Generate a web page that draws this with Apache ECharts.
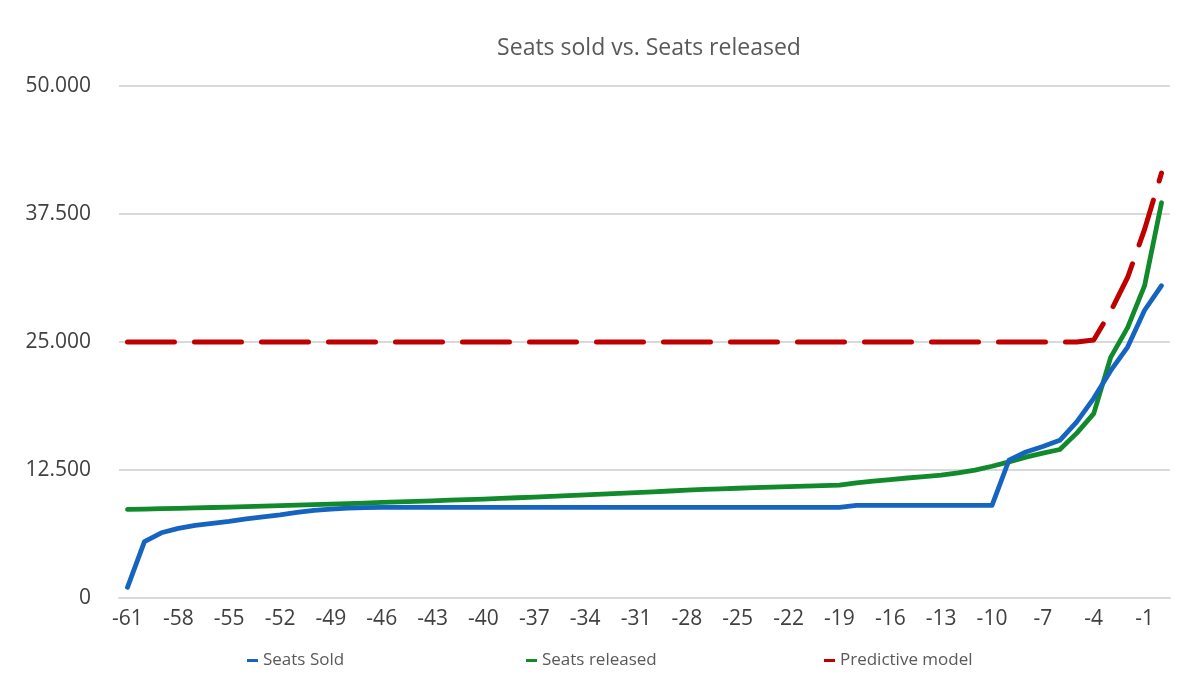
<!DOCTYPE html>
<html>
<head>
<meta charset="utf-8">
<title>Seats sold vs. Seats released</title>
<script src="https://cdn.jsdelivr.net/npm/echarts@6/dist/echarts.min.js"></script>
<style>
  html, body { margin: 0; padding: 0; background: #fff; }
  #chart { width: 1200px; height: 699px; }
</style>
</head>
<body>
<div id="chart"></div>
<script>
// days before departure, -61 .. 0
const days = [];
for (let d = -61; d <= 0; d++) days.push(String(d));

const seatsSold = [
  1040, 5500, 6370, 6800, 7090, 7280, 7480, 7730, 7930, 8120,
  8350, 8550, 8680, 8770, 8830, 8850, 8850, 8850, 8850, 8850,
  8850, 8850, 8850, 8850, 8850, 8850, 8850, 8850, 8850, 8850,
  8850, 8850, 8850, 8850, 8850, 8850, 8850, 8850, 8850, 8850,
  8850, 8850, 8850, 9050, 9050, 9050, 9050, 9050, 9050, 9050,
  9050, 9050, 13450, 14260, 14800, 15400, 17200, 19500, 22200, 24500,
  28100, 30500
];

const seatsReleased = [
  8650, 8680, 8720, 8760, 8800, 8840, 8880, 8930, 8970, 9020,
  9060, 9110, 9160, 9210, 9270, 9330, 9380, 9440, 9490, 9550,
  9610, 9660, 9720, 9790, 9860, 9930, 10000, 10070, 10150, 10220,
  10300, 10370, 10450, 10530, 10600, 10660, 10720, 10770, 10820, 10870,
  10920, 10970, 11020, 11250, 11420, 11570, 11720, 11860, 12000, 12220,
  12480, 12870, 13300, 13750, 14150, 14500, 16100, 18000, 23500, 26400,
  30500, 38600
];

const predictive = [
  25000, 25000, 25000, 25000, 25000, 25000, 25000, 25000, 25000, 25000,
  25000, 25000, 25000, 25000, 25000, 25000, 25000, 25000, 25000, 25000,
  25000, 25000, 25000, 25000, 25000, 25000, 25000, 25000, 25000, 25000,
  25000, 25000, 25000, 25000, 25000, 25000, 25000, 25000, 25000, 25000,
  25000, 25000, 25000, 25000, 25000, 25000, 25000, 25000, 25000, 25000,
  25000, 25000, 25000, 25000, 25000, 25000, 25000, 25200, 28000, 31300,
  36000, 41500
];

const seriesNames = ['Seats Sold', 'Seats released', 'Predictive model'];
const FONT = '"Open Sans", "Noto Sans", sans-serif';

// 12500 -> "12.500"
const fmt = v => String(v).replace(/\B(?=(\d{3})+(?!\d))/g, '.');

// one legend per item so each sits where the original puts it
const legendLeft = [242, 521, 819];
const legends = seriesNames.map((name, i) => ({
  left: legendLeft[i],
  bottom: 25,
  itemWidth: 11,
  itemHeight: 3,
  icon: 'rect',
  textStyle: { fontFamily: FONT, fontSize: 17, color: '#595959' },
  data: [name]
}));

const chart = echarts.init(document.getElementById('chart'));
chart.setOption({
  animation: false,
  title: {
    text: 'Seats sold vs. Seats released',
    left: 644,
    textAlign: 'center',
    top: 32,
    textStyle: { fontFamily: FONT, fontSize: 23, fontWeight: 'normal', color: '#595959' }
  },
  legend: legends,
  grid: { left: 119, right: 30, top: 86, bottom: 101 },
  xAxis: {
    type: 'category',
    data: days,
    boundaryGap: true,
    axisLine: { lineStyle: { color: '#d9d9d9', width: 2 } },
    axisTick: { show: false },
    axisLabel: { interval: 2, margin: 11, fontFamily: FONT, fontSize: 21, color: '#404040' }
  },
  yAxis: {
    type: 'value',
    min: 0,
    max: 50000,
    interval: 12500,
    axisLine: { show: false },
    axisTick: { show: false },
    axisLabel: { margin: 28, fontFamily: FONT, fontSize: 21, color: '#404040', formatter: fmt },
    splitLine: { lineStyle: { color: '#d9d9d9', width: 2 } }
  },
  series: [
    {
      name: seriesNames[0],
      type: 'line',
      data: seatsSold,
      symbol: 'none',
      z: 3,
      lineStyle: { color: '#1565c0', width: 4.8, cap: 'round', join: 'round' },
      itemStyle: { color: '#1565c0' }
    },
    {
      name: seriesNames[1],
      type: 'line',
      data: seatsReleased,
      symbol: 'none',
      z: 2,
      lineStyle: { color: '#118a2b', width: 4.8, cap: 'round', join: 'round' },
      itemStyle: { color: '#118a2b' }
    },
    {
      name: seriesNames[2],
      type: 'line',
      data: predictive,
      symbol: 'none',
      z: 1,
      lineStyle: { color: '#c00000', width: 5, type: [47, 20], cap: 'round', join: 'round' },
      itemStyle: { color: '#c00000' }
    }
  ]
});
</script>
</body>
</html>
